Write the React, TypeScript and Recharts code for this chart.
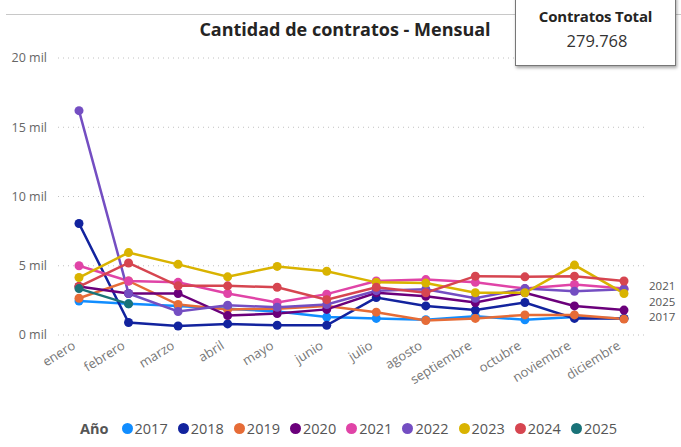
import React from 'react';
import { LineChart, Line, XAxis, YAxis, CartesianGrid } from 'recharts';

const months = ['enero', 'febrero', 'marzo', 'abril', 'mayo', 'junio', 'julio', 'agosto', 'septiembre', 'octubre', 'noviembre', 'diciembre'];

const v2017 = [2450, 2250, 2100, 1900, 1700, 1300, 1200, 1100, 1350, 1100, 1300, 1200];
const v2018 = [8050, 900, 650, 800, 700, 700, 2700, 2100, 1800, 2350, 1200, 1200];
const v2019 = [2650, 3900, 2200, 1850, 1900, 2100, 1650, 1050, 1200, 1450, 1450, 1150];
const v2020 = [3500, 3000, 3000, 1400, 1550, 1850, 3050, 2800, 2350, 3050, 2100, 1800];
const v2021 = [5000, 3900, 3800, 3000, 2350, 2950, 3900, 4000, 3800, 3350, 3650, 3350];
const v2022 = [16200, 3000, 1700, 2150, 2000, 2200, 3200, 3300, 2650, 3350, 3150, 3300];
const v2023 = [4150, 5950, 5100, 4200, 4950, 4600, 3800, 3750, 3050, 3050, 5050, 3000];
const v2024 = [3500, 5200, 3550, 3550, 3450, 2550, 3450, 3050, 4250, 4200, 4250, 3900];
const v2025 = [3350, 2250, null, null, null, null, null, null, null, null, null, null];

const yTicks = [0, 5000, 10000, 15000, 20000];
const endLabels = ['2021', '2025', '2017'];

const series = [
  { key: '2017', values: v2017, color: '#118DFF' },
  { key: '2018', values: v2018, color: '#12239E' },
  { key: '2019', values: v2019, color: '#E66C37' },
  { key: '2020', values: v2020, color: '#6B007B' },
  { key: '2021', values: v2021, color: '#E044A7' },
  { key: '2022', values: v2022, color: '#744EC2' },
  { key: '2023', values: v2023, color: '#D9B300' },
  { key: '2024', values: v2024, color: '#D64550' },
  { key: '2025', values: v2025, color: '#197278' },
];

const data = months.map((m, i) => {
  const row: Record<string, any> = { month: m };
  series.forEach(s => { row[s.key] = s.values[i]; });
  return row;
});

const font = '"Segoe UI", "Open Sans", sans-serif';

// rotated month labels, ending just left of the tick
const MonthTick = (props: any) => {
  const { x, payload } = props;
  return (
    <g transform={`translate(${x - 5},${344}) rotate(-32)`}>
      <text x={0} y={0} dy="0.35em" textAnchor="end" fontSize={13} fill="#777" fontFamily={font}>
        {payload.value}
      </text>
    </g>
  );
};

export default function App() {
  return (
    <div style={{ position: 'absolute', left: 0, top: 0, width: 681, height: 447, background: '#fff', fontFamily: font, overflow: 'hidden' }}>
      <div style={{ position: 'absolute', left: 6, top: 14, width: 675, height: 0, borderTop: '1.5px solid #c8c8c8' }} />
      <div style={{ position: 'absolute', left: 0, top: 17, width: 690, textAlign: 'center', fontSize: 18, fontWeight: 700, color: '#252423' }}>
        Cantidad de contratos - Mensual
      </div>

      <LineChart width={681} height={447} data={data} margin={{ top: 58, right: 36, left: 0, bottom: 52 }} style={{ position: 'absolute', left: 0, top: 0 }}>
        <CartesianGrid vertical={false} stroke="#c0c0c0" strokeDasharray="1 4" />
        <XAxis
          dataKey="month"
          interval={0}
          axisLine={false}
          tickLine={false}
          height={60}
          padding={{ left: 21, right: 21 }}
          tick={<MonthTick />}
        />
        <YAxis
          domain={[0, 20000]}
          ticks={yTicks}
          width={58}
          axisLine={false}
          tickLine={false}
          tickSize={0}
          tickMargin={11}
          tickFormatter={(v: number) => `${v / 1000} mil`}
          tick={{ fontSize: 12.5, fill: '#666', fontFamily: font }}
        />
        {series.map(s => (
          <Line
            key={s.key}
            dataKey={s.key}
            stroke={s.color}
            strokeWidth={2.5}
            dot={{ r: 4.5, fill: s.color, stroke: s.color, strokeWidth: 0 }}
            activeDot={false}
            isAnimationActive={false}
            connectNulls={false}
          />
        ))}
      </LineChart>

      {endLabels.map((l, i) => (
        <div key={l} style={{ position: 'absolute', left: 649, top: 280 + i * 15.7, fontSize: 11.5, lineHeight: '12px', color: '#555' }}>{l}</div>
      ))}

      <div style={{ position: 'absolute', left: 80, top: 419, display: 'flex', alignItems: 'center', fontSize: 14.5, color: '#555', whiteSpace: 'nowrap' }}>
        <span style={{ fontWeight: 700, marginRight: 13, color: '#555' }}>Año</span>
        {series.map(s => (
          <span key={s.key} style={{ display: 'flex', alignItems: 'center', marginRight: 10 }}>
            <span style={{ width: 11, height: 11, borderRadius: 6, background: s.color, display: 'inline-block', marginRight: 2 }} />
            {s.key}
          </span>
        ))}
      </div>

      <div style={{ position: 'absolute', left: 515, top: -4, width: 159, height: 68, background: '#fff', border: '1.5px solid #777', boxShadow: '1px 2px 3px rgba(0,0,0,0.35)', textAlign: 'center' }}>
        <div style={{ marginTop: 9, fontSize: 15, fontWeight: 700, color: '#252423', letterSpacing: -0.2 }}>Contratos Total</div>
        <div style={{ marginTop: 3, fontSize: 16.5, color: '#333', paddingLeft: 3 }}>279.768</div>
      </div>
    </div>
  );
}
